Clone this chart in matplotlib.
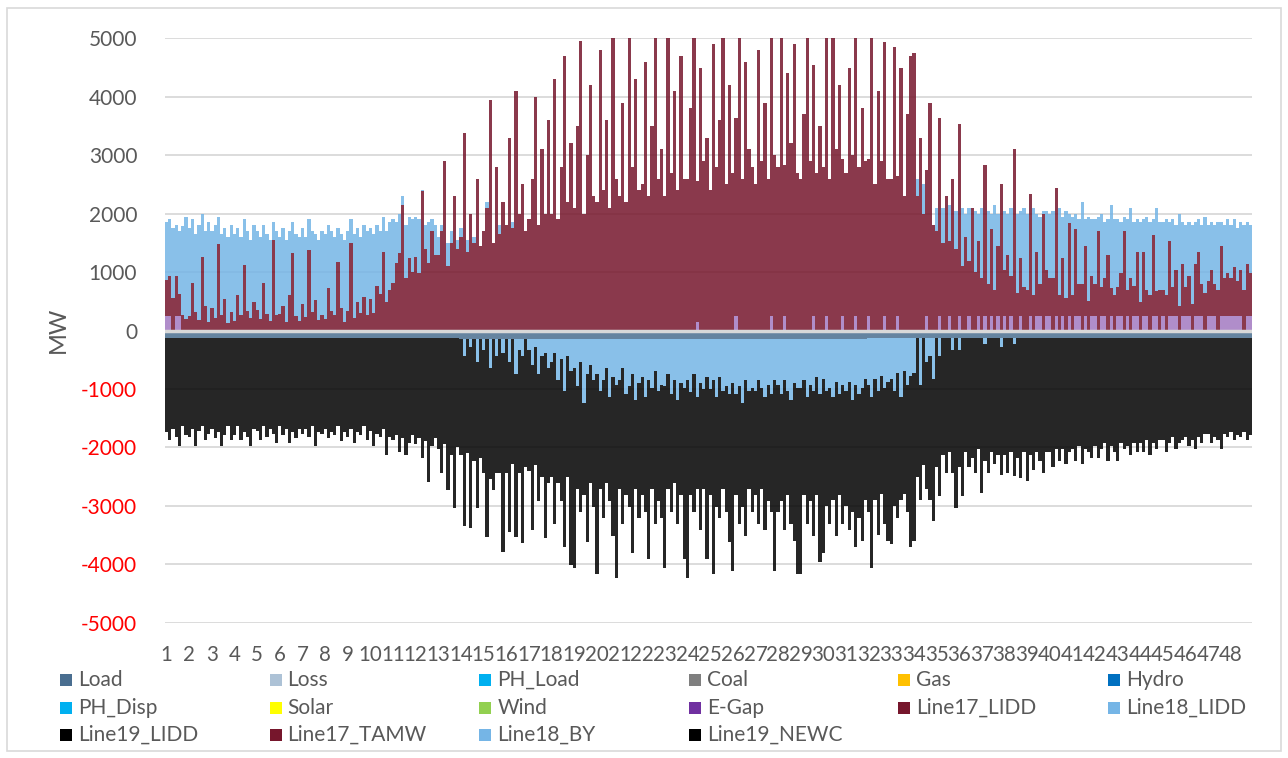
import numpy as np
import matplotlib.pyplot as plt
from matplotlib.patches import Rectangle

plt.rcParams['font.family'] = ['Lato', 'DejaVu Sans']

W, H = 1288, 758

weeks = [str(w) for w in range(1, 49)]

series_names = ['Load', 'Loss', 'PH_Load', 'Coal', 'Gas', 'Hydro',
                'PH_Disp', 'Solar', 'Wind', 'E-Gap', 'Line17_LIDD', 'Line18_LIDD',
                'Line19_LIDD', 'Line17_TAMW', 'Line18_BY', 'Line19_NEWC']
series_colors = ['#4A6E90', '#ADC2D6', '#00B0F0', '#7F7F7F', '#FFC000', '#0070C0',
                 '#00B0F0', '#FFFF00', '#92D050', '#7030A0', '#76162C', '#75B5E6',
                 '#000000', '#76162C', '#75B5E6', '#000000']
bar_alpha = {'E-Gap': 0.55}

# weekly load at the node (MW)
load_week = [-130, -128, -132, -130, -127, -131, -129, -133, -130, -128, -131, -134,
             -136, -138, -137, -140, -139, -141, -142, -140, -143, -141, -142, -144,
             -143, -142, -141, -140, -139, -138, -137, -136, -135, -134, -133, -132,
             -131, -132, -130, -131, -129, -130, -128, -129, -130, -128, -129, -130]

# daily values, one row per week (MW)
egap_days = [
    "240 240 0 240 240 0 0", "0 0 0 0 0 0 0", "0 0 0 0 0 0 0", "0 0 0 0 0 0 0",
    "0 0 0 0 0 0 0", "0 0 0 0 0 0 0", "0 0 0 0 0 0 0", "0 0 0 0 0 0 0",
    "0 0 0 0 0 0 0", "0 0 0 0 0 0 0", "0 0 0 0 0 0 0", "0 0 0 0 0 0 0",
    "0 0 0 0 0 0 0", "0 0 0 0 0 0 0", "0 0 0 0 0 0 0", "0 0 0 0 0 0 0",
    "0 0 0 0 0 0 0", "0 0 0 0 0 0 0", "0 0 0 0 0 0 0", "0 0 0 0 0 0 0",
    "0 0 0 0 0 0 0", "0 0 0 0 0 0 0", "0 0 0 0 0 0 0", "0 0 0 150 0 0 0",
    "0 0 0 0 0 0 0", "0 240 0 0 0 0 0", "0 0 0 0 0 240 0", "0 0 240 0 0 0 0",
    "0 0 0 0 240 0 0", "0 240 0 0 0 0 240", "0 0 0 240 0 0 0", "240 0 0 0 0 240 0",
    "0 0 240 0 0 0 0", "0 0 0 0 240 0 0", "0 240 0 0 240 0 0", "240 0 0 240 0 0 240",
    "0 240 0 240 0 240 0", "240 0 240 0 0 240 0", "0 240 0 240 240 0 240", "240 0 240 0 240 0 240",
    "0 240 240 0 240 0 240", "240 0 240 240 0 240 0", "240 240 0 240 0 240 240", "0 240 240 0 240 240 0",
    "240 0 240 240 240 0 240", "240 240 0 240 240 240 0", "240 240 240 0 240 240 240", "240 240 240 240 0 240 240",
]

line17_days = [
    "620 700 560 690 380 260 200", "240 820 310 180 1250 420 150",
    "380 210 1480 260 540 130 310", "170 600 260 1120 330 220 480",
    "350 190 820 280 160 1550 260", "280 420 150 600 1320 240 170",
    "450 230 1380 310 520 180 260", "200 720 340 260 1180 390 150",
    "330 1500 220 480 300 580 260", "540 300 760 620 1350 480 700",
    "820 1150 1320 2150 900 1240 1000", "1250 980 2380 1400 1150 1700 1300",
    "1300 1700 2900 1100 1500 2300 1400", "1600 3380 1350 2000 1500 2600 1450",
    "1700 2100 3950 1500 2800 1650 2200", "1800 3300 1750 4100 2000 2500 1700",
    "1900 2600 4000 1800 3100 2000 3600", "2000 4300 1900 2800 4700 2200 3200",
    "2100 3500 4950 2000 3000 4200 2300", "2200 4800 2400 3600 2100 5000 2600",
    "2300 3900 2200 5000 2800 4300 2400", "2500 4600 2300 3500 5000 2600 3100",
    "2300 5000 2700 4100 2400 4700 2600", "2600 3800 5000 2400 4500 2900 3300",
    "2400 4900 2800 3600 5000 2500 4200", "2700 3400 5000 2600 4600 3100 2800",
    "2500 4800 2900 3900 2600 5000 3000", "2800 5000 2600 4400 3200 4900 2700",
    "2600 3700 5000 2900 4300 2700 3500", "2800 4800 2600 5000 3100 4200 2700",
    "2700 4500 3000 5000 2800 3800 2900", "2700 5000 2500 4100 2900 4700 2600",
    "2600 4850 2400 4500 2300 3700 4700", "4750 2300 3300 2000 2500 3900 1800",
    "1700 3400 1500 2300 1300 2600 1400", "3300 1100 1600 950 2100 1000 1300",
    "900 2600 800 1500 700 1200 2500", "800 1300 700 3100 650 1000 750",
    "700 2100 600 1100 550 2000 800", "650 900 2200 600 1000 550 1600",
    "600 1500 550 800 1200 500 700", "550 1700 500 650 1300 480 600",
    "500 750 1700 450 900 520 1100", "480 1100 450 600 1400 430 700",
    "450 600 1300 500 800 420 900", "500 700 450 900 1100 550 650",
    "600 800 550 700 1200 650 750", "650 850 600 800 700 900 750",
]

line18_days = [
    "990 960 1190 870 1080 1520 1750", "1510 1080 1340 1620 750 1280 1700",
    "1320 1590 470 1390 1210 1470 1490", "1480 1150 1340 780 1370 1330 1320",
    "1350 1410 980 1370 1390 300 1440", "1320 1330 1400 1100 530 1410 1430",
    "1300 1370 520 1390 1130 1370 1440", "1450 1080 1360 1340 570 1260 1400",
    "1370 400 1430 1270 1300 1220 1440", "1210 1350 1040 1080 600 1220 1150",
    "1080 700 680 150 900 710 900", "700 920 20 400 700 200 500",
    "300 100 0 400 200 0 150", "150 -300 200 -150 100 -400 0",
    "-200 100 -500 0 -300 150 -250", "0 -400 100 -600 -200 -300 0",
    "-200 -450 -150 -600 -300 -250 -500", "-400 -250 -700 -350 -900 -300 -550",
    "-500 -800 -400 -1100 -600 -450 -700", "-600 -900 -700 -500 -1000 -650 -800",
    "-700 -500 -950 -800 -600 -1050 -750", "-650 -1000 -700 -850 -550 -900 -800",
    "-800 -600 -950 -700 -1050 -750 -850", "-700 -900 -600 -1000 -750 -850 -650",
    "-850 -700 -1000 -650 -900 -800 -950", "-750 -950 -800 -1100 -700 -900 -850",
    "-900 -700 -850 -1000 -800 -950 -700", "-800 -950 -700 -900 -1050 -750 -850",
    "-850 -700 -1000 -800 -900 -650 -950", "-700 -900 -850 -1000 -750 -950 -800",
    "-900 -750 -1050 -800 -950 -850 -700", "-800 -1000 -700 -900 -650 -850 -750",
    "-700 -900 -600 -1000 -550 -800 -650", "-600 300 -800 500 -400 -300 -700",
    "400 -300 600 0 600 -200 650", "-200 1000 400 910 0 1050 460",
    "1200 -100 1250 260 1450 560 -150", "1010 700 1160 -100 1350 810 1350",
    "1300 0 1500 660 1160 50 1010", "1110 1150 0 1500 710 1500 160",
    "1350 260 1110 1400 460 1450 960", "1110 250 1260 960 600 1430 1300",
    "1160 860 250 1210 1200 1090 560", "1370 560 1260 1250 260 1430 1150",
    "1160 1300 310 1160 760 1580 710", "1060 910 1350 710 560 1010 1300",
    "960 810 1010 1150 410 910 910", "910 810 910 810 1100 710 810",
]

line19_days = [
    "-1600 -1750 -1550 -1700 -1850 -1500 -1650", "-1700 -1550 -1850 -1600 -1500 -1750 -1650",
    "-1550 -1700 -1600 -1850 -1650 -1500 -1750", "-1650 -1500 -1750 -1600 -1700 -1850 -1550",
    "-1600 -1750 -1500 -1700 -1550 -1650 -1800", "-1500 -1650 -1550 -1800 -1600 -1700 -1550",
    "-1650 -1550 -1700 -1500 -1850 -1600 -1650", "-1550 -1700 -1600 -1650 -1500 -1750 -1600",
    "-1700 -1550 -1800 -1600 -1650 -1500 -1750", "-1600 -1850 -1650 -1700 -1550 -2000 -1700",
    "-1750 -1650 -1950 -1700 -2000 -1800 -1650", "-1800 -1700 -2050 -1750 -2450 -1850 -1700",
    "-1900 -2300 -1800 -2600 -2000 -2900 -1850", "-2000 -2900 -1950 -3100 -2100 -2500 -2050",
    "-2100 -3400 -1900 -2600 -2000 -2300 -3400", "-2300 -2900 -2150 -2800 -2100 -3200 -2200",
    "-2070 -2820 -2020 -2170 -2070 -3170 -1970", "-1970 -2920 -1770 -2420 -2670 -2070 -3320",
    "-3420 -1770 -2570 -1570 -2870 -2020 -2170", "-3420 -1670 -2370 -1970 -1770 -2720 -3290",
    "-1870 -2670 -1720 -2070 -3070 -1520 -2320", "-2020 -1970 -3070 -1720 -2620 -1870 -2270",
    "-3120 -1970 -2020 -1770 -2120 -1920 -2920", "-3390 -1770 -2370 -1570 -2520 -1720 -3120",
    "-1820 -3320 -1870 -2420 -1670 -2170 -2520", "-3220 -1720 -2370 -1770 -2670 -1670 -2120",
    "-1770 -2470 -1720 -2270 -1970 -2020 -3270", "-2170 -1820 -2570 -1770 -2120 -2720 -3170",
    "-3170 -1970 -2170 -1970 -2470 -2020 -2870", "-2970 -1970 -2320 -1770 -2620 -1720 -2370",
    "-1970 -2520 -1920 -2770 -2120 -2620 -2070", "-2170 -2920 -2070 -2470 -2020 -2320 -2720",
    "-2820 -1970 -2470 -1770 -2120 -2170 -2920", "-2870 -2370 -1970 -2170 -2170 -2470 -2420",
    "-2200 -2400 -2000 -2300 -1950 -2100 -2900", "-2000 -2700 -1950 -2200 -2050 -2300 -1900",
    "-2650 -2000 -2300 -1950 -2150 -2000 -2200", "-2000 -2300 -1950 -2250 -2050 -2400 -1950",
    "-2450 -2000 -2250 -1950 -2100 -2300 -1950", "-1950 -2200 -1900 -2100 -1900 -2150 -1950",
    "-1900 -2100 -1850 -2150 -1900 -1950 -2050", "-1850 -2050 -1900 -1800 -2100 -1850 -1950",
    "-2100 -1800 -1900 -1850 -2000 -1800 -1950", "-1800 -1950 -1750 -2000 -1800 -1900 -1750",
    "-1750 -1950 -1800 -1700 -1900 -1800 -1750", "-1700 -1850 -1750 -1900 -1700 -1800 -1650",
    "-1650 -1800 -1700 -1750 -1900 -1650 -1700", "-1600 -1750 -1650 -1700 -1600 -1750 -1650",
]


def days(rows):
    return np.array([float(v) for r in rows for v in r.split()])


n = len(weeks) * 7
data = {name: np.zeros(n) for name in series_names}
data['Load'] = np.repeat(load_week, 7).astype(float)
data['E-Gap'] = days(egap_days)
data['Line17_LIDD'] = days(line17_days)
data['Line18_LIDD'] = days(line18_days)
data['Line19_LIDD'] = days(line19_days)

fig = plt.figure(figsize=(W / 100, H / 100), dpi=100)
ax = fig.add_axes([165 / W, 1 - 622.7 / H, (1252 - 165) / W, (622.7 - 38.3) / H])

# stacked columns: positives pile up from 0, negatives pile down from 0
x = np.arange(n) + 0.5
pos_base = np.zeros(n)
neg_base = np.zeros(n)
for name, col in zip(series_names, series_colors):
    v = data[name]
    up = np.clip(v, 0, None)
    down = np.clip(v, None, 0)
    a = bar_alpha.get(name, 0.85)
    if up.any():
        ax.bar(x, up, bottom=pos_base, width=1.0, color=col, alpha=a,
               linewidth=0, zorder=2)
        pos_base += up
    if down.any():
        ax.bar(x, down, bottom=neg_base, width=1.0, color=col, alpha=a,
               linewidth=0, zorder=2)
        neg_base += down

ax.set_xlim(0, n)
ax.set_ylim(-5000, 5000)
yt = np.arange(-5000, 5001, 1000)
ax.set_yticks(yt)
ax.set_yticklabels([str(t) for t in yt], fontsize=15, color='#595959')
for lab, t in zip(ax.get_yticklabels(), yt):
    if t < 0:
        lab.set_color('#FF0000')
ax.set_xticks(np.arange(len(weeks)) * 7 + 0.5)
ax.set_xticklabels(weeks, fontsize=14.8, color='#595959')
ax.tick_params(axis='y', length=0, pad=20)
ax.tick_params(axis='x', length=0, pad=16)
ax.grid(axis='y', color='#D9D9D9', linewidth=1.3, zorder=0)
ax.set_axisbelow(True)
for s in ax.spines.values():
    s.set_visible(False)
ax.axhline(0, color='#D9D9D9', linewidth=2.5, zorder=3)

fig.text(58 / W, 1 - 330 / H, 'MW', rotation=90, ha='center', va='center',
         fontsize=17, color='#595959')

# legend laid out in six even columns
for i, (name, col) in enumerate(zip(series_names, series_colors)):
    row, c = divmod(i, 6)
    xm = 60 + 209.6 * c
    yc = 680 + 27.5 * row
    fig.add_artist(Rectangle((xm / W, 1 - (yc + 6) / H), 12 / W, 12 / H,
                             transform=fig.transFigure, color=col, linewidth=0))
    fig.text((xm + 18) / W, 1 - yc / H, name, ha='left', va='center',
             fontsize=15, color='#595959')

fig.add_artist(Rectangle((7 / W, 1 - 751 / H), (1281 - 7) / W, (751 - 8) / H,
                         transform=fig.transFigure, fill=False,
                         edgecolor='#D9D9D9', linewidth=1.2))

fig.savefig('out.png', dpi=100)
